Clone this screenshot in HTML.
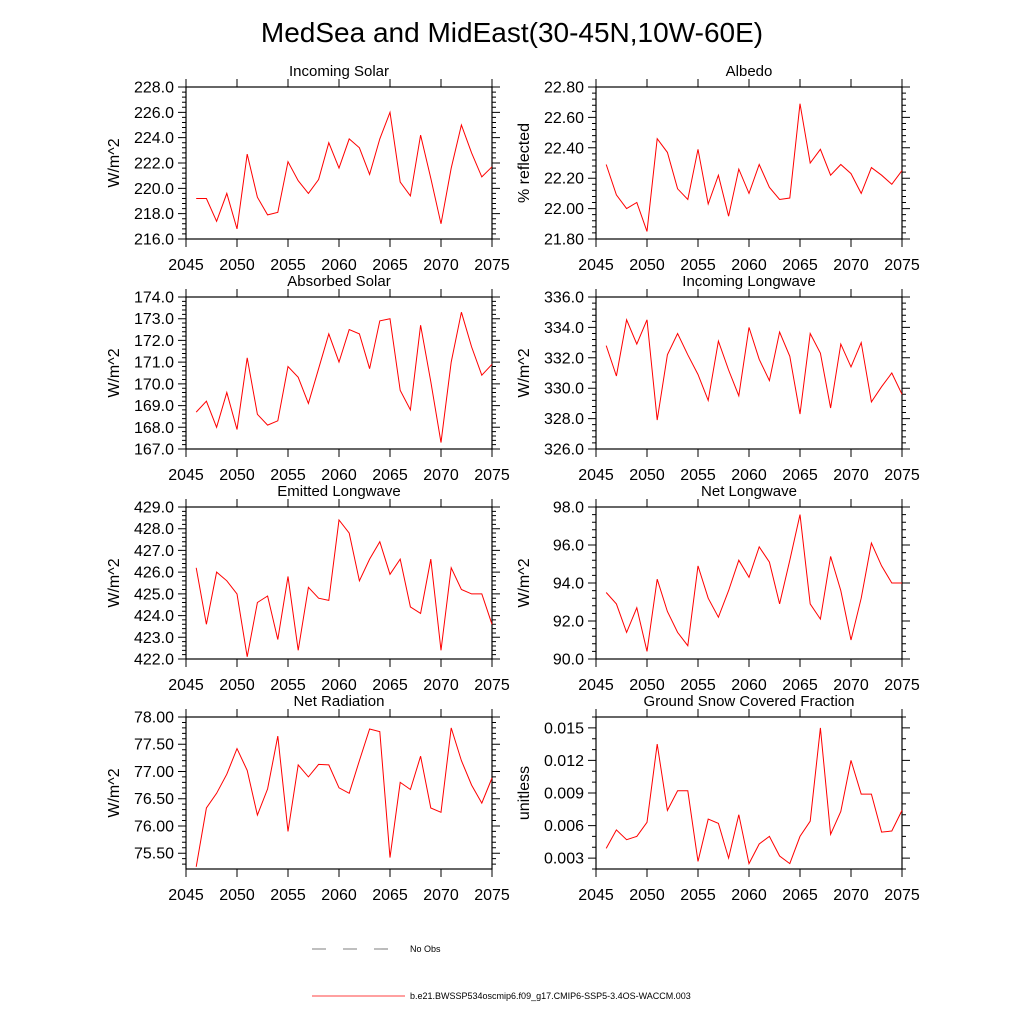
<!DOCTYPE html>
<html><head><meta charset="utf-8"><style>
body{margin:0;background:#fff;width:1024px;height:1024px;overflow:hidden}
svg{font-family:"Liberation Sans",sans-serif}
</style></head><body>
<svg id="c" width="1024" height="1024" viewBox="0 0 1024 1024">
<text x="512" y="42" text-anchor="middle" font-size="28">MedSea and MidEast(30-45N,10W-60E)</text>
<g>
<line x1="312" y1="949" x2="405" y2="949" stroke="#555" stroke-width="0.8" stroke-dasharray="14,17"/>
<text x="410" y="952" font-size="9">No Obs</text>
<line x1="312" y1="996" x2="405" y2="996" stroke="red" stroke-width="0.8"/>
<text x="410" y="999" font-size="9">b.e21.BWSSP534oscmip6.f09_g17.CMIP6-SSP5-3.4OS-WACCM.003</text>
</g>
</svg>
<script>
const years=[2046,2047,2048,2049,2050,2051,2052,2053,2054,2055,2056,2057,2058,2059,2060,2061,2062,2063,2064,2065,2066,2067,2068,2069,2070,2071,2072,2073,2074,2075];
const xTicks=[2045,2050,2055,2060,2065,2070,2075];
const incomingSolar=[219.2,219.2,217.4,219.6,216.8,222.7,219.3,217.9,218.1,222.1,220.6,219.6,220.7,223.6,221.6,223.9,223.2,221.1,223.9,226.0,220.5,219.4,224.2,220.8,217.2,221.6,225.0,222.8,220.9,221.7];
const absorbedSolar=[168.7,169.2,168.0,169.6,167.9,171.2,168.6,168.1,168.3,170.8,170.3,169.1,170.7,172.3,171.0,172.5,172.3,170.7,172.9,173.0,169.7,168.8,172.7,170.1,167.3,171.0,173.3,171.7,170.4,170.9];
const albedo=[22.29,22.09,22.00,22.04,21.85,22.46,22.37,22.13,22.06,22.39,22.03,22.22,21.95,22.26,22.10,22.29,22.14,22.06,22.07,22.69,22.30,22.39,22.22,22.29,22.23,22.10,22.27,22.22,22.16,22.25];
const incomingLW=[332.8,330.8,334.5,332.9,334.5,327.9,332.2,333.6,332.2,330.9,329.2,333.1,331.2,329.5,334.0,331.9,330.5,333.7,332.1,328.3,333.6,332.3,328.7,332.9,331.4,333.0,329.1,330.1,331.0,329.6];
const emittedLW=[426.2,423.6,426.0,425.6,425.0,422.1,424.6,424.9,422.9,425.8,422.4,425.3,424.8,424.7,428.4,427.8,425.6,426.6,427.4,425.9,426.6,424.4,424.1,426.6,422.4,426.2,425.2,425.0,425.0,423.6];
const netLW=[93.5,92.9,91.4,92.7,90.4,94.2,92.5,91.4,90.7,94.9,93.2,92.2,93.6,95.2,94.3,95.9,95.1,92.9,95.2,97.6,92.9,92.1,95.4,93.6,91.0,93.2,96.1,94.9,94.0,94.0];
const netRad=[75.25,76.33,76.60,76.95,77.42,77.02,76.20,76.68,77.65,75.90,77.12,76.90,77.13,77.12,76.70,76.60,77.20,77.78,77.73,75.42,76.80,76.67,77.28,76.33,76.25,77.80,77.20,76.75,76.42,76.88];
const snow=[0.0039,0.0056,0.0047,0.0050,0.0063,0.0135,0.0074,0.0092,0.0092,0.0027,0.0066,0.0062,0.0030,0.0070,0.0025,0.0043,0.0050,0.0032,0.0025,0.0050,0.0064,0.0150,0.0052,0.0073,0.0120,0.0089,0.0089,0.0054,0.0055,0.0074];
const ticksIS=[216,218,220,222,224,226,228];
const ticksAS=[167,168,169,170,171,172,173,174];
const ticksAL=[21.8,22.0,22.2,22.4,22.6,22.8];
const ticksIL=[326,328,330,332,334,336];
const ticksEL=[422,423,424,425,426,427,428,429];
const ticksNL=[90,92,94,96,98];
const ticksNR=[75.5,76,76.5,77,77.5,78];
const ticksSN=[0.003,0.006,0.009,0.012,0.015];

const panels=[
 {name:'incoming-solar',title:'Incoming Solar',yl:'W/m^2',d:incomingSolar,t:ticksIS,min:216,max:228,dec:1,minor:0.4,x:186,y:87},
 {name:'albedo',title:'Albedo',yl:'% reflected',d:albedo,t:ticksAL,min:21.8,max:22.8,dec:2,minor:0.04,x:596,y:87},
 {name:'absorbed-solar',title:'Absorbed Solar',yl:'W/m^2',d:absorbedSolar,t:ticksAS,min:167,max:174,dec:1,minor:0.2,x:186,y:297},
 {name:'incoming-longwave',title:'Incoming Longwave',yl:'W/m^2',d:incomingLW,t:ticksIL,min:326,max:336,dec:1,minor:0.4,x:596,y:297},
 {name:'emitted-longwave',title:'Emitted Longwave',yl:'W/m^2',d:emittedLW,t:ticksEL,min:422,max:429,dec:1,minor:0.2,x:186,y:507},
 {name:'net-longwave',title:'Net Longwave',yl:'W/m^2',d:netLW,t:ticksNL,min:90,max:98,dec:1,minor:0.4,x:596,y:507},
 {name:'net-radiation',title:'Net Radiation',yl:'W/m^2',d:netRad,t:ticksNR,min:75.21,max:78,dec:2,minor:0.1,x:186,y:717},
 {name:'snow-fraction',title:'Ground Snow Covered Fraction',yl:'unitless',d:snow,t:ticksSN,min:0.002,max:0.016,dec:3,minor:0.001,x:596,y:717}
];
const W=306,H=152;
const svg=document.getElementById('c');
const NS='http://www.w3.org/2000/svg';
function mk(tag,attrs,parent){const e=document.createElementNS(NS,tag);for(const k in attrs)e.setAttribute(k,attrs[k]);parent.appendChild(e);return e;}
panels.forEach(p=>{
 const g=mk('g',{},svg);
 
 
 const xs=v=>p.x+(v-2045)/30*W;
 const ys=v=>p.y+H-(v-p.min)/(p.max-p.min)*H;
 let tk='';
 const start=Math.ceil(p.min/p.minor-1e-6);
 for(let i=start;i*p.minor<=p.max+1e-9;i++){const v=i*p.minor;const y=ys(v);
  tk+=`M${p.x} ${y}h-4M${p.x+W} ${y}h4`;}
 p.t.forEach(v=>{const y=ys(v);tk+=`M${p.x} ${y}h-8M${p.x+W} ${y}h8`;});
 xTicks.forEach(v=>{const x=xs(v);tk+=`M${x} ${p.y+H}v8M${x} ${p.y}v-8`;});
 const ticks=mk('path',{d:tk,stroke:'#000','stroke-width':1,fill:'none'},g);
 
 
 const box=mk('rect',{x:p.x,y:p.y,width:W,height:H,fill:'none',stroke:'#000','stroke-width':1.2},g);
 
 
 p.t.forEach(v=>{const t=mk('text',{x:p.x-12,y:ys(v)+5.5,'text-anchor':'end','font-size':16},g);t.textContent=v.toFixed(p.dec);
  
  });
 xTicks.forEach(v=>{const t=mk('text',{x:xs(v),y:p.y+H+31,'text-anchor':'middle','font-size':16},g);t.textContent=v;
  
  });
 const tt=mk('text',{x:p.x+W/2,y:p.y-11,'text-anchor':'middle','font-size':15},g);tt.textContent=p.title;
 
 
 const yx=p.x-67;const yy=p.y+H/2;
 const yt=mk('text',{x:yx,y:yy,'text-anchor':'middle','font-size':16,transform:`rotate(-90 ${yx} ${yy})`},g);yt.textContent=p.yl;
 
 
 const pts=p.d.map((v,i)=>xs(years[i]).toFixed(1)+','+ys(v).toFixed(1)).join(' ');
 const ln=mk('polyline',{points:pts,fill:'none',stroke:'red','stroke-width':1},g);
 
 
});
</script>
</body></html>
